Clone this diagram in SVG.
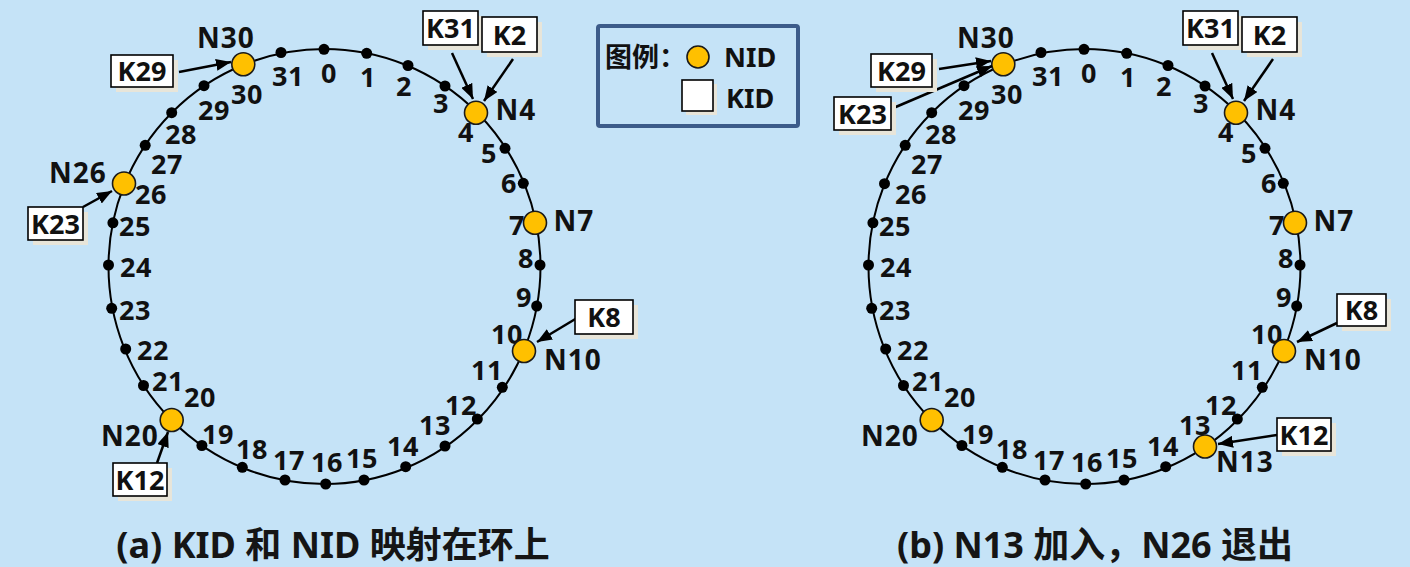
<svg xmlns="http://www.w3.org/2000/svg" width="1410" height="567" viewBox="0 0 1410 567">
<defs>
<style>
.ring{fill:none;stroke:#000;stroke-width:2}
.dot{fill:#000}
.nid{fill:#FFC000;stroke:#1a1a1a;stroke-width:1.6}
.num{font-family:"Noto Sans","Liberation Sans",sans-serif;font-weight:bold;font-size:27px;fill:#111;text-anchor:middle;letter-spacing:0.5px}
.nl{font-family:"Noto Sans","Liberation Sans",sans-serif;font-weight:bold;font-size:28px;fill:#111;text-anchor:middle;letter-spacing:1px}
.kb{fill:#fff;stroke:#000;stroke-width:1.6}
.sh{fill:#E8E5D9}
.kt{font-family:"Noto Sans","Liberation Sans",sans-serif;font-weight:bold;font-size:27px;fill:#111;text-anchor:middle}
.ar{fill:none;stroke:#000;stroke-width:2.5;marker-end:url(#ah)}
.ttl{font-family:"Noto Sans","Noto Sans CJK SC",sans-serif;font-weight:bold;font-size:36px;fill:#151515;text-anchor:middle}
.lg{font-family:"Noto Sans","Noto Sans CJK SC",sans-serif;font-weight:bold;font-size:27px;fill:#111}
</style>
<marker id="ah" markerUnits="userSpaceOnUse" markerWidth="16" markerHeight="12" refX="15" refY="6" orient="auto">
<path d="M0,0 L15,6 L0,12 z" fill="#000"/>
</marker>
</defs>
<rect x="0" y="0" width="1410" height="567" fill="#C5E3F7"/>

<!-- ===== (a) ===== -->
<g id="ring-a"><ellipse class="ring" cx="324.5" cy="266.5" rx="216" ry="217.5"/></g>
<g id="ticks-a">
<g id="a-t0"><circle class="dot" cx="324" cy="49.3" r="5.5"/><text class="num" x="329" y="83">0</text></g>
<g id="a-t1"><circle class="dot" cx="366.7" cy="53.3" r="5.5"/><text class="num" x="368" y="87">1</text></g>
<g id="a-t2"><circle class="dot" cx="408" cy="65.5" r="5.5"/><text class="num" x="404" y="96">2</text></g>
<g id="a-t3"><circle class="dot" cx="445" cy="86" r="5.5"/><text class="num" x="441" y="113">3</text></g>
<g id="a-t4"><text class="num" x="466" y="142">4</text></g>
<g id="a-t5"><circle class="dot" cx="505" cy="148.3" r="5.5"/><text class="num" x="489" y="163">5</text></g>
<g id="a-t6"><circle class="dot" cx="523.3" cy="183.3" r="5.5"/><text class="num" x="509" y="193">6</text></g>
<g id="a-t7"><text class="num" x="517" y="235">7</text></g>
<g id="a-t8"><circle class="dot" cx="540" cy="265" r="5.5"/><text class="num" x="526" y="268">8</text></g>
<g id="a-t9"><circle class="dot" cx="536.7" cy="306" r="5.5"/><text class="num" x="524" y="307">9</text></g>
<g id="a-t10"><text class="num" x="507" y="344">10</text></g>
<g id="a-t11"><circle class="dot" cx="502.3" cy="387.3" r="5.5"/><text class="num" x="487" y="380">11</text></g>
<g id="a-t12"><circle class="dot" cx="477.3" cy="419" r="5.5"/><text class="num" x="461" y="415">12</text></g>
<g id="a-t13"><circle class="dot" cx="445" cy="446" r="5.5"/><text class="num" x="435" y="435">13</text></g>
<g id="a-t14"><circle class="dot" cx="405.7" cy="466.7" r="5.5"/><text class="num" x="403" y="456">14</text></g>
<g id="a-t15"><circle class="dot" cx="364" cy="480" r="5.5"/><text class="num" x="362" y="468">15</text></g>
<g id="a-t16"><circle class="dot" cx="325.7" cy="484" r="5.5"/><text class="num" x="327" y="472">16</text></g>
<g id="a-t17"><circle class="dot" cx="285" cy="480" r="5.5"/><text class="num" x="289" y="470">17</text></g>
<g id="a-t18"><circle class="dot" cx="242.3" cy="467.3" r="5.5"/><text class="num" x="252" y="459">18</text></g>
<g id="a-t19"><circle class="dot" cx="201.9" cy="445.5" r="5.5"/><text class="num" x="218" y="444">19</text></g>
<g id="a-t20"><text class="num" x="200" y="407">20</text></g>
<g id="a-t21"><circle class="dot" cx="143.5" cy="385.5" r="5.5"/><text class="num" x="168" y="391">21</text></g>
<g id="a-t22"><circle class="dot" cx="125.7" cy="349" r="5.5"/><text class="num" x="153" y="360">22</text></g>
<g id="a-t23"><circle class="dot" cx="111.7" cy="308.3" r="5.5"/><text class="num" x="135" y="320">23</text></g>
<g id="a-t24"><circle class="dot" cx="108.5" cy="265" r="5.5"/><text class="num" x="136" y="277">24</text></g>
<g id="a-t25"><circle class="dot" cx="112.9" cy="222.8" r="5.5"/><text class="num" x="135" y="236">25</text></g>
<g id="a-t26"><text class="num" x="151" y="204">26</text></g>
<g id="a-t27"><circle class="dot" cx="145.2" cy="145.3" r="5.5"/><text class="num" x="167" y="174">27</text></g>
<g id="a-t28"><circle class="dot" cx="171.7" cy="112.7" r="5.5"/><text class="num" x="181" y="144">28</text></g>
<g id="a-t29"><circle class="dot" cx="204" cy="85.7" r="5.5"/><text class="num" x="214" y="120">29</text></g>
<g id="a-t30"><text class="num" x="247" y="104">30</text></g>
<g id="a-t31"><circle class="dot" cx="281" cy="52.5" r="5.5"/><text class="num" x="288" y="86">31</text></g>
</g>
<g id="a-N30"><circle class="nid" cx="243.3" cy="64.3" r="11.5"/><text class="nl" x="226" y="48">N30</text></g>
<g id="a-N4"><circle class="nid" cx="476" cy="112.7" r="11.5"/><text class="nl" x="516" y="120">N4</text></g>
<g id="a-N7"><circle class="nid" cx="535" cy="222.7" r="11.5"/><text class="nl" x="574" y="231">N7</text></g>
<g id="a-N10"><circle class="nid" cx="524" cy="351" r="11.5"/><text class="nl" x="573" y="370">N10</text></g>
<g id="a-N20"><circle class="nid" cx="171.7" cy="420" r="11.5"/><text class="nl" x="130" y="446">N20</text></g>
<g id="a-N26"><circle class="nid" cx="124" cy="183.5" r="11.5"/><text class="nl" x="78" y="183">N26</text></g>

<!-- ===== (b) ===== -->
<g id="ring-b"><ellipse class="ring" cx="1084.5" cy="266.5" rx="216" ry="217.5"/></g>
<g id="ticks-b">
<g id="b-t0"><circle class="dot" cx="1084" cy="49.3" r="5.5"/><text class="num" x="1089" y="83">0</text></g>
<g id="b-t1"><circle class="dot" cx="1126.7" cy="53.3" r="5.5"/><text class="num" x="1128" y="87">1</text></g>
<g id="b-t2"><circle class="dot" cx="1168" cy="65.5" r="5.5"/><text class="num" x="1164" y="96">2</text></g>
<g id="b-t3"><circle class="dot" cx="1205" cy="86" r="5.5"/><text class="num" x="1201" y="113">3</text></g>
<g id="b-t4"><text class="num" x="1226" y="142">4</text></g>
<g id="b-t5"><circle class="dot" cx="1265" cy="148.3" r="5.5"/><text class="num" x="1249" y="163">5</text></g>
<g id="b-t6"><circle class="dot" cx="1283.3" cy="183.3" r="5.5"/><text class="num" x="1269" y="193">6</text></g>
<g id="b-t7"><text class="num" x="1277" y="235">7</text></g>
<g id="b-t8"><circle class="dot" cx="1300" cy="265" r="5.5"/><text class="num" x="1286" y="268">8</text></g>
<g id="b-t9"><circle class="dot" cx="1296.7" cy="306" r="5.5"/><text class="num" x="1284" y="307">9</text></g>
<g id="b-t10"><text class="num" x="1267" y="344">10</text></g>
<g id="b-t11"><circle class="dot" cx="1262.3" cy="387.3" r="5.5"/><text class="num" x="1247" y="380">11</text></g>
<g id="b-t12"><circle class="dot" cx="1237.3" cy="419" r="5.5"/><text class="num" x="1221" y="415">12</text></g>
<g id="b-t13"><text class="num" x="1195" y="435">13</text></g>
<g id="b-t14"><circle class="dot" cx="1165.7" cy="466.7" r="5.5"/><text class="num" x="1163" y="456">14</text></g>
<g id="b-t15"><circle class="dot" cx="1124" cy="480" r="5.5"/><text class="num" x="1122" y="468">15</text></g>
<g id="b-t16"><circle class="dot" cx="1085.7" cy="484" r="5.5"/><text class="num" x="1087" y="472">16</text></g>
<g id="b-t17"><circle class="dot" cx="1045" cy="480" r="5.5"/><text class="num" x="1049" y="470">17</text></g>
<g id="b-t18"><circle class="dot" cx="1002.3" cy="467.3" r="5.5"/><text class="num" x="1012" y="459">18</text></g>
<g id="b-t19"><circle class="dot" cx="961.9" cy="445.5" r="5.5"/><text class="num" x="978" y="444">19</text></g>
<g id="b-t20"><text class="num" x="960" y="407">20</text></g>
<g id="b-t21"><circle class="dot" cx="903.5" cy="385.5" r="5.5"/><text class="num" x="928" y="391">21</text></g>
<g id="b-t22"><circle class="dot" cx="885.7" cy="349" r="5.5"/><text class="num" x="913" y="360">22</text></g>
<g id="b-t23"><circle class="dot" cx="871.7" cy="308.3" r="5.5"/><text class="num" x="895" y="320">23</text></g>
<g id="b-t24"><circle class="dot" cx="868.5" cy="265" r="5.5"/><text class="num" x="896" y="277">24</text></g>
<g id="b-t25"><circle class="dot" cx="872.9" cy="222.8" r="5.5"/><text class="num" x="895" y="236">25</text></g>
<g id="b-t26"><circle class="dot" cx="884.5" cy="183.7" r="5.5"/><text class="num" x="911" y="204">26</text></g>
<g id="b-t27"><circle class="dot" cx="905.2" cy="145.3" r="5.5"/><text class="num" x="927" y="174">27</text></g>
<g id="b-t28"><circle class="dot" cx="931.7" cy="112.7" r="5.5"/><text class="num" x="941" y="144">28</text></g>
<g id="b-t29"><circle class="dot" cx="964" cy="85.7" r="5.5"/><text class="num" x="974" y="120">29</text></g>
<g id="b-t30"><text class="num" x="1007" y="104">30</text></g>
<g id="b-t31"><circle class="dot" cx="1041" cy="52.5" r="5.5"/><text class="num" x="1048" y="86">31</text></g>
</g>
<g id="b-N30"><circle class="nid" cx="1003.3" cy="64.3" r="11.5"/><text class="nl" x="986" y="48">N30</text></g>
<g id="b-N4"><circle class="nid" cx="1236" cy="112.7" r="11.5"/><text class="nl" x="1276" y="120">N4</text></g>
<g id="b-N7"><circle class="nid" cx="1295" cy="222.7" r="11.5"/><text class="nl" x="1334" y="231">N7</text></g>
<g id="b-N10"><circle class="nid" cx="1284" cy="351" r="11.5"/><text class="nl" x="1333" y="370">N10</text></g>
<g id="b-N13"><circle class="nid" cx="1205" cy="446.5" r="11.5"/><text class="nl" x="1245" y="472">N13</text></g>
<g id="b-N20"><circle class="nid" cx="931.7" cy="420" r="11.5"/><text class="nl" x="890" y="446">N20</text></g>

<!-- ===== connectors ===== -->
<g id="connectors">
<line class="ar" x1="179" y1="72" x2="231" y2="62"/>
<line class="ar" x1="83" y1="207" x2="112" y2="191"/>
<line class="ar" x1="452" y1="53" x2="473" y2="99"/>
<line class="ar" x1="513" y1="59" x2="484" y2="101"/>
<line class="ar" x1="577" y1="318" x2="537" y2="342"/>
<line class="ar" x1="157" y1="463" x2="168" y2="432"/>
<line class="ar" x1="939" y1="69" x2="991" y2="61"/>
<line class="ar" x1="891" y1="109" x2="992" y2="66"/>
<line class="ar" x1="1212" y1="53" x2="1233" y2="99"/>
<line class="ar" x1="1273" y1="59" x2="1244" y2="101"/>
<line class="ar" x1="1337" y1="323" x2="1297" y2="342"/>
<line class="ar" x1="1277" y1="435" x2="1218" y2="444"/>
</g>

<!-- ===== KID boxes ===== -->
<g id="a-K29"><rect class="sh" x="116" y="60" width="62" height="32"/><rect class="kb" x="111" y="55" width="62" height="32"/><text class="kt" x="142" y="81">K29</text></g>
<g id="a-K23"><rect class="sh" x="33" y="212" width="55" height="33"/><rect class="kb" x="28" y="207" width="55" height="33"/><text class="kt" x="55.5" y="234">K23</text></g>
<g id="a-K31"><rect class="sh" x="428" y="16" width="55" height="34"/><rect class="kb" x="423" y="11" width="55" height="34"/><text class="kt" x="450.5" y="38">K31</text></g>
<g id="a-K2"><rect class="sh" x="487" y="22" width="55" height="35"/><rect class="kb" x="482" y="17" width="55" height="35"/><text class="kt" x="509.5" y="45">K2</text></g>
<g id="a-K8"><rect class="sh" x="580" y="305" width="58" height="34"/><rect class="kb" x="575" y="300" width="58" height="34"/><text class="kt" x="604" y="327">K8</text></g>
<g id="a-K12"><rect class="sh" x="118" y="468" width="54" height="33"/><rect class="kb" x="113" y="463" width="54" height="33"/><text class="kt" x="140" y="490">K12</text></g>

<g id="b-K29"><rect class="sh" x="876" y="59" width="61" height="33"/><rect class="kb" x="871" y="54" width="61" height="33"/><text class="kt" x="901.5" y="81">K29</text></g>
<g id="b-K23"><rect class="sh" x="839" y="102" width="57" height="33"/><rect class="kb" x="834" y="97" width="57" height="33"/><text class="kt" x="862.5" y="124">K23</text></g>
<g id="b-K31"><rect class="sh" x="1188" y="16" width="55" height="34"/><rect class="kb" x="1183" y="11" width="55" height="34"/><text class="kt" x="1210.5" y="38">K31</text></g>
<g id="b-K2"><rect class="sh" x="1247" y="22" width="55" height="35"/><rect class="kb" x="1242" y="17" width="55" height="35"/><text class="kt" x="1269.5" y="45">K2</text></g>
<g id="b-K8"><rect class="sh" x="1342" y="299" width="49" height="32"/><rect class="kb" x="1337" y="294" width="49" height="32"/><text class="kt" x="1361.5" y="320">K8</text></g>
<g id="b-K12"><rect class="sh" x="1282" y="423" width="54" height="33"/><rect class="kb" x="1277" y="418" width="54" height="33"/><text class="kt" x="1304" y="445">K12</text></g>

<!-- ===== legend ===== -->
<g id="legend">
<rect x="598" y="26" width="200" height="100" rx="2" fill="none" stroke="#3D5C8A" stroke-width="4"/>
<text class="lg" x="605" y="67">图例：</text>
<circle class="nid" cx="698" cy="57" r="11"/>
<text class="lg" x="724" y="67">NID</text>
<rect class="sh" x="686" y="84" width="31" height="31"/>
<rect class="kb" x="682" y="80" width="31" height="31"/>
<text class="lg" x="726" y="108">KID</text>
</g>

<!-- ===== titles ===== -->
<text id="title-a" class="ttl" x="333" y="558">(a) KID 和 NID 映射在环上</text>
<text id="title-b" class="ttl" x="1095" y="558">(b) N13 加入，N26 退出</text>
</svg>
